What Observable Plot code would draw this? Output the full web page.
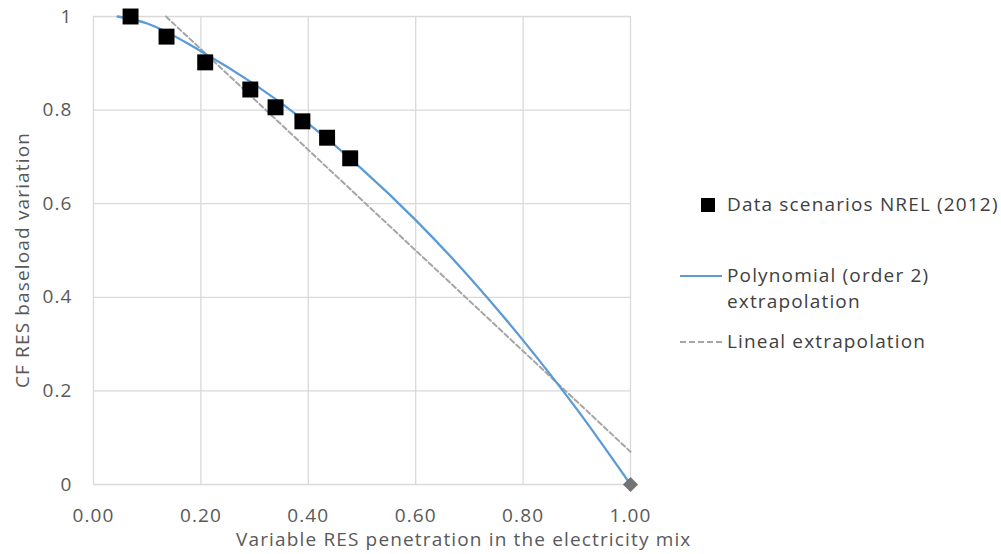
<!DOCTYPE html>
<html><head><meta charset="utf-8">
<script src="https://cdn.jsdelivr.net/npm/d3@7"></script>
<script src="https://cdn.jsdelivr.net/npm/@observablehq/plot@0.6"></script>
<style>
body{margin:0;background:#fff;}
#wrap{position:relative;width:1001px;height:554px;font-family:"Open Sans",sans-serif;color:#595959;overflow:hidden;letter-spacing:1.15px;}
#wrap svg text{letter-spacing:1.1px;}
.abs{position:absolute;white-space:nowrap;}
.lg{position:absolute;white-space:nowrap;font-size:19px;color:#404040;line-height:26px;}
</style></head><body><div id="wrap"></div>
<script>
// NREL (2012) data scenarios
const dataX = [0.069, 0.136, 0.208, 0.292, 0.339, 0.389, 0.435, 0.478];
const dataY = [1.0, 0.957, 0.902, 0.844, 0.806, 0.776, 0.741, 0.697];
// Polynomial (order 2) extrapolation
const polyX = [0.045, 0.1, 0.2, 0.3, 0.4, 0.5, 0.6, 0.7, 0.8, 0.9, 1.0];
const polyY = [1.0, 0.985, 0.926, 0.855, 0.771, 0.674, 0.565, 0.443, 0.308, 0.161, 0.0];
// Lineal extrapolation
const linX = [0.135, 1.0];
const linY = [1.0, 0.07];
// End point
const endX = [1.0];
const endY = [0.0];
const xTicks = [0, 0.2, 0.4, 0.6, 0.8, 1.0];
const yTicks = [0, 0.2, 0.4, 0.6, 0.8, 1];

const pts = dataX.map((x,i)=>({x, y:dataY[i]}));
const poly = polyX.map((x,i)=>({x, y:polyY[i]}));
const lin = linX.map((x,i)=>({x, y:linY[i]}));
const end = endX.map((x,i)=>({x, y:endY[i]}));

const chart = Plot.plot({
  width:1001, height:554,
  marginLeft:93, marginRight:371, marginTop:16, marginBottom:70,
  style:{fontFamily:"'Open Sans', sans-serif", fontSize:"19px", color:"#595959", background:"#fff", overflow:"visible"},
  x:{domain:[0,1]},
  y:{domain:[0,1]},
  marks:[
    Plot.gridX(xTicks,{stroke:"#d9d9d9", strokeOpacity:1, strokeWidth:1.3}),
    Plot.gridY(yTicks,{stroke:"#d9d9d9", strokeOpacity:1, strokeWidth:1.3}),
    Plot.axisX(xTicks,{tickSize:0, tickPadding:24, label:null, tickFormat:d=>d.toFixed(2)}),
    Plot.axisY(yTicks,{tickSize:0, tickPadding:21, label:null, tickFormat:d=>String(d)}),
    Plot.line(lin,{x:"x", y:"y", stroke:"#a6a6a6", strokeWidth:2, strokeDasharray:"5,3"}),
    Plot.line(poly,{x:"x", y:"y", stroke:"#5b9bd5", strokeWidth:2.3, curve:"monotone-x"}),
    Plot.dot(end,{x:"x", y:"y", symbol:"diamond2", r:6.8, fill:"#737373", stroke:"none"}),
    Plot.dot(pts,{x:"x", y:"y", symbol:"square", r:9, fill:"#000", stroke:"none"})
  ]
});
const wrap = document.getElementById("wrap");
wrap.appendChild(chart);

function add(html, css, cls){
  const d = document.createElement("div");
  d.className = cls || "abs";
  d.innerHTML = html;
  Object.assign(d.style, css);
  wrap.appendChild(d);
  return d;
}
// axis titles
add("Variable RES penetration in the electricity mix",{left:"236px", top:"526px", fontSize:"19px", color:"#595959", lineHeight:"26px"});
add("CF RES baseload variation",{left:"22px", top:"260px", fontSize:"19px", color:"#595959", lineHeight:"26px", transform:"translate(-50%,-50%) rotate(-90deg)"});
// legend
add("",{left:"701px", top:"198px", width:"14px", height:"14px", background:"#000"});
add("Data scenarios NREL (2012)",{left:"727px", top:"191px"},"lg");
add("",{left:"680px", top:"275px", width:"42px", height:"0", borderTop:"2px solid #5b9bd5"});
add("Polynomial (order 2)<br>extrapolation",{left:"727px", top:"262px"},"lg");
add("",{left:"680px", top:"341px", width:"42px", height:"0", borderTop:"2px dashed #a6a6a6"});
add("Lineal extrapolation",{left:"727px", top:"328px"},"lg");
</script>
</body></html>
